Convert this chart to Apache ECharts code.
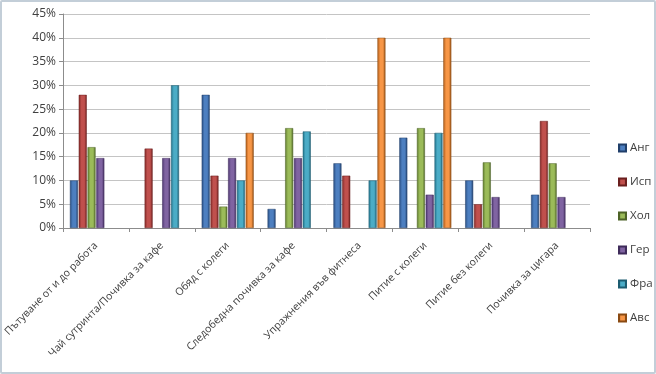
<!DOCTYPE html>
<html><head><meta charset="utf-8">
<script src="https://cdn.jsdelivr.net/npm/echarts@6/dist/echarts.min.js"></script>
<style>
html,body{margin:0;padding:0;background:#fff;}
#c{position:absolute;left:0;top:0;width:652px;height:370px;border:2px solid #c3ced8;border-radius:2px;background:#fff;}
</style></head>
<body><div id="c"></div>
<script>
const categories = ["Пътуване от и до работа","Чай сутринта/Почивка за кафе","Обяд с колеги","Следобедна почивка за кафе","Упражнения във фитнеса","Питие с колеги","Питие без колеги","Почивка за цигара"];
const seriesNames = ["Анг","Исп","Хол","Гер","Фра","Авс"];
const ang = [10, 0, 28, 4, 13.6, 19, 10, 7];
const isp = [28, 16.7, 11, 0, 11, 0, 5, 22.5];
const hol = [17, 0, 4.5, 21, 0, 21, 13.8, 13.6];
const ger = [14.7, 14.7, 14.7, 14.7, 0, 7, 6.5, 6.5];
const fra = [0, 30, 10, 20.3, 10, 20, 0, 0];
const avs = [0, 0, 20, 0, 40, 40, 0, 0];
const yTicks = [0,5,10,15,20,25,30,35,40,45];

const values = [ang, isp, hol, ger, fra, avs];
const colors = [
  ['#203f6a','#4d7fc0','#2a4f82'],
  ['#6a1f1e','#c0504d','#822a28'],
  ['#4d6326','#9bbb59','#5f7a2e'],
  ['#3e2b5a','#8064a2','#4c3670'],
  ['#1c5c70','#4bacc6','#237289'],
  ['#8a4a12','#f79646','#b05c1a']
];
const chart = echarts.init(document.getElementById('c'), null, {renderer:'canvas'});
const series = seriesNames.map((n,i)=>({
  name:n, type:'bar', data: values[i].map(v=> v===0 ? '-' : v/100),
  barWidth:8, barGap:'10%',
  itemStyle:{color:new echarts.graphic.LinearGradient(0,0,1,0,[
    {offset:0,color:colors[i][2]},{offset:0.35,color:colors[i][1]},{offset:0.7,color:colors[i][1]},{offset:1,color:colors[i][0]}]),
    borderColor:colors[i][0], borderWidth:0.5}
}));
chart.setOption({
  animation:false,
  color: colors.map(c=>c[1]),
  grid:{left:61,right:64,top:12,bottom:144,containLabel:false,outerBoundsMode:'none'},
  legend:{orient:'vertical',left:616,top:140,padding:0,itemWidth:7,itemHeight:7,itemGap:22,
    icon:'rect',textStyle:{fontSize:11.5,color:'#404040',fontFamily:'Open Sans',padding:[0,0,0,-1]},
    data:seriesNames},
  xAxis:{type:'category',data:categories,
    axisLine:{lineStyle:{color:'#8c8c8c'}},
    axisTick:{show:true,length:4,lineStyle:{color:'#8c8c8c'}},
    axisLabel:{rotate:45,interval:0,margin:16,fontSize:10.5,color:'#404040',fontFamily:'Open Sans'}},
  yAxis:{type:'value',min:0,max:0.45,interval:0.05,
    axisLine:{show:true,lineStyle:{color:'#8c8c8c'}},
    axisTick:{show:true,length:4,lineStyle:{color:'#8c8c8c'}},
    splitLine:{lineStyle:{color:'#c4c4c4'}},
    axisLabel:{fontSize:12,color:'#404040',fontFamily:'Open Sans',margin:7,
      formatter:v=>Math.round(v*100)+'%'}},
  series:series
});
</script></body></html>
